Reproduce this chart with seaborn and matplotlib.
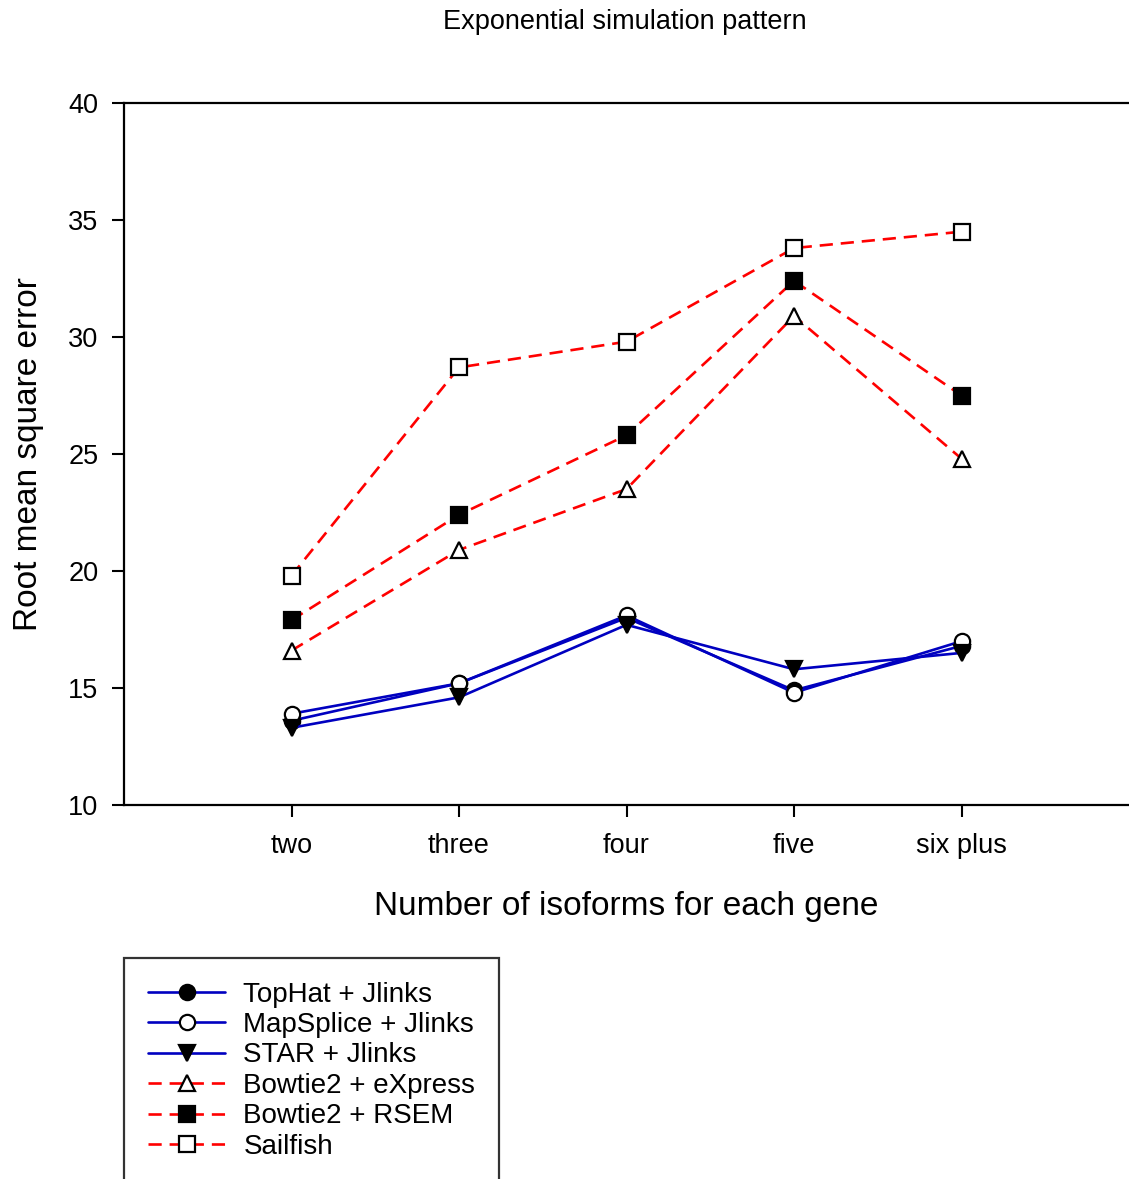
import matplotlib
matplotlib.use("Agg")
import matplotlib.pyplot as plt
import seaborn as sns
import pandas as pd

categories = ["two", "three", "four", "five", "six plus"]
tophat = [13.6, 15.2, 18.0, 14.9, 16.8]
mapsplice = [13.9, 15.2, 18.1, 14.8, 17.0]
star = [13.3, 14.6, 17.7, 15.8, 16.5]
express = [16.6, 20.9, 23.5, 30.9, 24.8]
rsem = [17.9, 22.4, 25.8, 32.4, 27.5]
sailfish = [19.8, 28.7, 29.8, 33.8, 34.5]

series_names = ["TopHat + Jlinks", "MapSplice + Jlinks", "STAR + Jlinks",
                "Bowtie2 + eXpress", "Bowtie2 + RSEM", "Sailfish"]
series_values = [tophat, mapsplice, star, express, rsem, sailfish]

rows = []
for name, vals in zip(series_names, series_values):
    for i, (c, v) in enumerate(zip(categories, vals)):
        rows.append({"method": name, "pos": i, "cat": c, "rmse": v})
df = pd.DataFrame(rows)

sns.set_theme(style="ticks")
plt.rcParams['font.family'] = ['Liberation Sans', 'DejaVu Sans']
plt.rcParams['text.color'] = 'black'
plt.rcParams['axes.labelcolor'] = 'black'
plt.rcParams['xtick.color'] = 'black'
plt.rcParams['ytick.color'] = 'black'

fig = plt.figure(figsize=(11.29, 11.79), dpi=100)
ax = fig.add_axes([124/1129, 1-805/1179, 1-124/1129, (805-103)/1179])

styles = {
    "TopHat + Jlinks": dict(color="#0000c0", marker="o", mfc="black", ls="-"),
    "MapSplice + Jlinks": dict(color="#0000c0", marker="o", mfc="white", ls="-"),
    "STAR + Jlinks": dict(color="#0000c0", marker="v", mfc="black", ls="-"),
    "Bowtie2 + eXpress": dict(color="#ff0000", marker="^", mfc="white", ls="--"),
    "Bowtie2 + RSEM": dict(color="#ff0000", marker="s", mfc="black", ls="--"),
    "Sailfish": dict(color="#ff0000", marker="s", mfc="white", ls="--"),
}

for name in series_names:
    st = styles[name]
    sub = df[df["method"] == name]
    sns.lineplot(data=sub, x="pos", y="rmse", ax=ax, color=st["color"],
                 linewidth=1.9, label=name, marker=st["marker"],
                 markersize=11, markerfacecolor=st["mfc"], markeredgecolor="black",
                 markeredgewidth=1.6, linestyle=st["ls"], sort=False)

for line in ax.get_lines():
    if line.get_linestyle() == "--":
        line.set_dashes((5.0, 3.0))

ax.set_xlim(-1, 5)
ax.set_ylim(10, 40)
ax.set_yticks([10, 15, 20, 25, 30, 35, 40])
ax.set_xticks(range(len(categories)))
ax.set_xticklabels(categories)
ax.tick_params(axis="both", labelsize=19.5, direction="out", length=8.5, width=1.5, colors="black")
ax.tick_params(axis="y", pad=10)
ax.tick_params(axis="x", pad=12)
for s in ["left", "bottom", "top"]:
    ax.spines[s].set_linewidth(1.6)
    ax.spines[s].set_color("black")
ax.spines["right"].set_visible(False)

ax.set_xlabel("Number of isoforms for each gene", fontsize=24, labelpad=23)
ax.set_ylabel("Root mean square error", fontsize=24, labelpad=17)
fig.text(625/1129, 1-22/1179, "Exponential simulation pattern", fontsize=19.5,
         ha="center", va="center")

handles, labels = ax.get_legend_handles_labels()
ax.get_legend().remove()
leg = fig.legend(handles, labels, loc="upper left",
                 bbox_to_anchor=(124/1129, 1-958/1179), fontsize=20,
                 frameon=True, fancybox=False, edgecolor="black",
                 handlelength=2.8, labelspacing=0.16, borderpad=0.85,
                 handletextpad=0.65, borderaxespad=0)
leg.get_frame().set_linewidth(1.6)

fig.savefig("out.png", dpi=100)
